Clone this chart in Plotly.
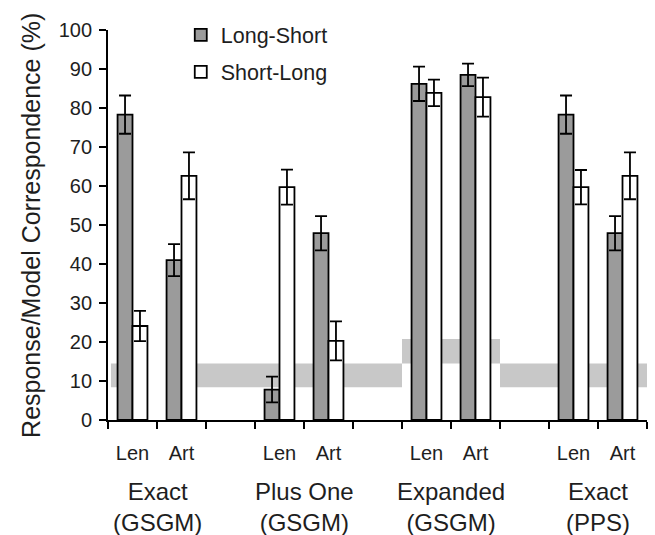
import plotly.graph_objects as go

# ---- data ----
groups = ["Exact<br>(GSGM)", "Plus One<br>(GSGM)", "Expanded<br>(GSGM)", "Exact<br>(PPS)"]
subcats = ["Len", "Art"]
long_short = [78.3, 41.0, 7.8, 47.9, 86.2, 88.5, 78.3, 47.9]
long_short_err = [4.9, 4.1, 3.3, 4.4, 4.4, 2.9, 4.9, 4.4]
short_long = [24.1, 62.6, 59.7, 20.3, 83.9, 82.8, 59.7, 62.6]
short_long_err = [3.9, 6.0, 4.5, 5.0, 3.4, 5.0, 4.4, 6.0]
# chance bands: (x start, x end, low %, high %) in category units
bands = [(-0.44, 0.30, 8.4, 14.5), (0.71, 5.5, 8.4, 14.5),
         (5.5, 7.5, 14.5, 20.8), (7.5, 10.5, 8.4, 14.5)]
yticks = list(range(0, 101, 10))

# category positions: each group takes two slots plus one empty gap slot
xpos = [g * 3 + j for g in range(len(groups)) for j in range(len(subcats))]
xlabels = [s for g in groups for s in subcats]
boundaries = [-0.5 + k for k in range(3 * len(groups))]

FONT = "Liberation Sans, Arial, sans-serif"
TXT = "#1e1e1e"

fig = go.Figure()
fig.add_trace(go.Bar(
    x=xpos, y=long_short, name="Long-Short", legendgroup="a",
    marker=dict(color="#9b9b9b", line=dict(color="black", width=1.8)),
    error_y=dict(type="data", array=long_short_err, color="black", thickness=1.8, width=6),
))
fig.add_trace(go.Bar(
    x=xpos, y=short_long, name="Short-Long", legendgroup="b",
    marker=dict(color="white", line=dict(color="black", width=1.8)),
    error_y=dict(type="data", array=short_long_err, color="black", thickness=1.8, width=6),
))

for x0, x1, lo, hi in bands:
    fig.add_shape(type="rect", xref="x", yref="y", x0=x0, x1=x1, y0=lo, y1=hi,
                  fillcolor="#c8c8c8", line=dict(width=0), layer="below")

for g, name in enumerate(groups):
    fig.add_annotation(x=g * 3 + 0.5, xref="x", y=-0.143, yref="paper",
                       text=name, showarrow=False, xanchor="center", yanchor="top",
                       font=dict(size=24, color=TXT, family=FONT))

fig.add_annotation(x=-0.143, xref="paper", y=0.5, yref="paper",
                   text="Response/Model Correspondence (%)", textangle=-90,
                   showarrow=False, xanchor="center", yanchor="middle",
                   font=dict(size=25, color=TXT, family=FONT))

fig.update_layout(
    width=655, height=535,
    margin=dict(l=108, r=8, t=30, b=115, autoexpand=False),
    paper_bgcolor="white", plot_bgcolor="white",
    barmode="group", bargap=0.39, bargroupgap=0,
    font=dict(family=FONT, color=TXT),
    legend=dict(x=0.135, y=1.04, xanchor="left", yanchor="top",
                font=dict(size=21.5, color=TXT, family=FONT),
                traceorder="grouped", tracegroupgap=6,
                bgcolor="rgba(0,0,0,0)"),
    xaxis=dict(range=[-0.5, 10.5], showline=True, linecolor="black", linewidth=1.8,
               tickmode="array", tickvals=xpos, ticktext=xlabels, ticks="",
               tickfont=dict(size=20, color=TXT, family=FONT), ticklabelstandoff=14,
               showgrid=False, zeroline=False, fixedrange=True,
               minor=dict(tickmode="array", tickvals=boundaries, ticks="outside",
                          ticklen=7, tickwidth=1.8, tickcolor="black", showgrid=False)),
    yaxis=dict(range=[0, 100], showline=True, linecolor="black", linewidth=1.8,
               tickmode="array", tickvals=yticks, ticks="outside", ticklen=7,
               tickwidth=1.8, tickcolor="black", ticklabelstandoff=3,
               tickfont=dict(size=20, color=TXT, family=FONT),
               showgrid=False, zeroline=False),
)

fig.write_html("out.html")
